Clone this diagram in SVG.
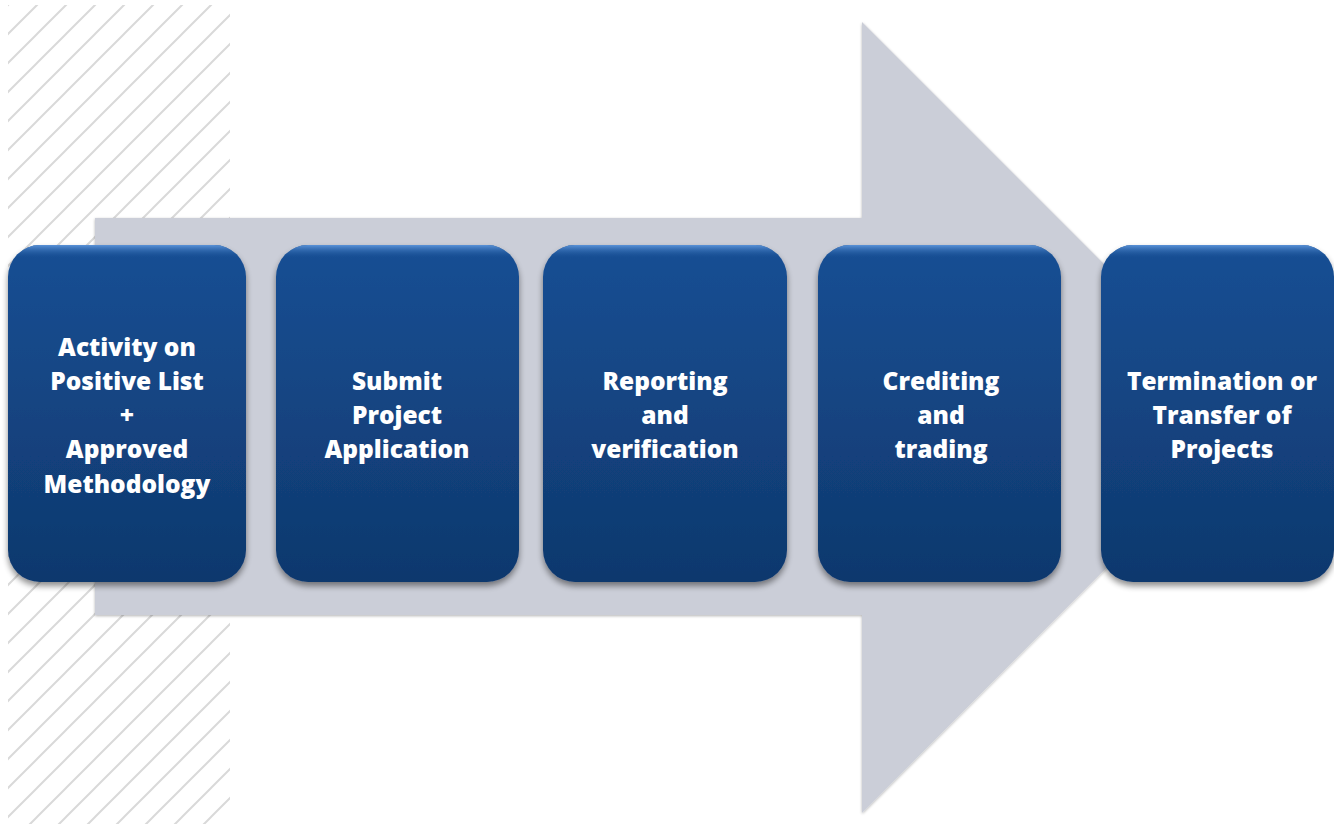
<svg xmlns="http://www.w3.org/2000/svg" width="1334" height="824" viewBox="0 0 1334 824">
<defs>
<pattern id="hatch" patternUnits="userSpaceOnUse" width="29" height="29" patternTransform="translate(8,5)">
<path d="M-1,30 L30,-1 M-15,15 L15,-15 M14,44 L44,14" stroke="#d9d9d9" stroke-width="2"/>
</pattern>
<linearGradient id="boxg" x1="0" y1="0" x2="0" y2="1">
<stop offset="0" stop-color="#174f94"/>
<stop offset="1" stop-color="#0f386d"/>
</linearGradient>
<linearGradient id="hl" x1="0" y1="0" x2="0" y2="1">
<stop offset="0" stop-color="#5a92d8" stop-opacity="1"/>
<stop offset="0.04" stop-color="#174f94" stop-opacity="0"/>
</linearGradient>
<filter id="sh" x="-10%" y="-10%" width="120%" height="125%">
<feGaussianBlur in="SourceAlpha" stdDeviation="3"/>
<feOffset dx="0" dy="4" result="b"/>
<feComponentTransfer><feFuncA type="linear" slope="0.45"/></feComponentTransfer>
<feMerge><feMergeNode/><feMergeNode in="SourceGraphic"/></feMerge>
</filter>
<filter id="ash" x="-5%" y="-5%" width="110%" height="110%">
<feGaussianBlur in="SourceAlpha" stdDeviation="1.5"/>
<feOffset dx="0" dy="1"/>
<feComponentTransfer><feFuncA type="linear" slope="0.3"/></feComponentTransfer>
<feMerge><feMergeNode/><feMergeNode in="SourceGraphic"/></feMerge>
</filter>
</defs>
<style>
.box{fill:url(#boxg);filter:url(#sh)}
.hl{fill:url(#hl)}
.t{font-family:"Open Sans",Lato,"Liberation Sans",sans-serif;font-weight:800;font-size:24.5px;fill:#ffffff;text-anchor:middle}
</style>
<rect x="0" y="0" width="1334" height="824" fill="#ffffff"/>
<rect id="hatch-area" x="8" y="5" width="222" height="819" fill="url(#hatch)"/>
<g id="connectors">
<path id="big-arrow" d="M95,218 L862,218 L862,22 L1257,417 L862,813 L862,615 L95,615 Z" fill="#cbced8" filter="url(#ash)"/>
</g>
<g id="node1">
<rect class="box" x="8" y="245" width="238" height="337" rx="32"/>
<rect class="hl" x="8" y="245" width="238" height="337" rx="32"/>
<text class="t" x="127" y="356">Activity on</text>
<text class="t" x="127" y="390">Positive List</text>
<text class="t" x="127" y="424">+</text>
<text class="t" x="127" y="458">Approved</text>
<text class="t" x="127" y="493">Methodology</text>
</g>
<g id="node2">
<rect class="box" x="276" y="245" width="243" height="337" rx="32"/>
<rect class="hl" x="276" y="245" width="243" height="337" rx="32"/>
<text class="t" x="397" y="390">Submit</text>
<text class="t" x="397" y="424">Project</text>
<text class="t" x="397" y="458">Application</text>
</g>
<g id="node3">
<rect class="box" x="543" y="245" width="244" height="337" rx="32"/>
<rect class="hl" x="543" y="245" width="244" height="337" rx="32"/>
<text class="t" x="665" y="390">Reporting</text>
<text class="t" x="665" y="424">and</text>
<text class="t" x="665" y="458">verification</text>
</g>
<g id="node4">
<rect class="box" x="818" y="245" width="243" height="337" rx="32"/>
<rect class="hl" x="818" y="245" width="243" height="337" rx="32"/>
<text class="t" x="941" y="390">Crediting</text>
<text class="t" x="941" y="424">and</text>
<text class="t" x="941" y="458">trading</text>
</g>
<g id="node5">
<rect class="box" x="1101" y="245" width="233" height="337" rx="32"/>
<rect class="hl" x="1101" y="245" width="233" height="337" rx="32"/>
<text class="t" x="1222" y="390">Termination or</text>
<text class="t" x="1222" y="424">Transfer of</text>
<text class="t" x="1222" y="458">Projects</text>
</g>
</svg>
